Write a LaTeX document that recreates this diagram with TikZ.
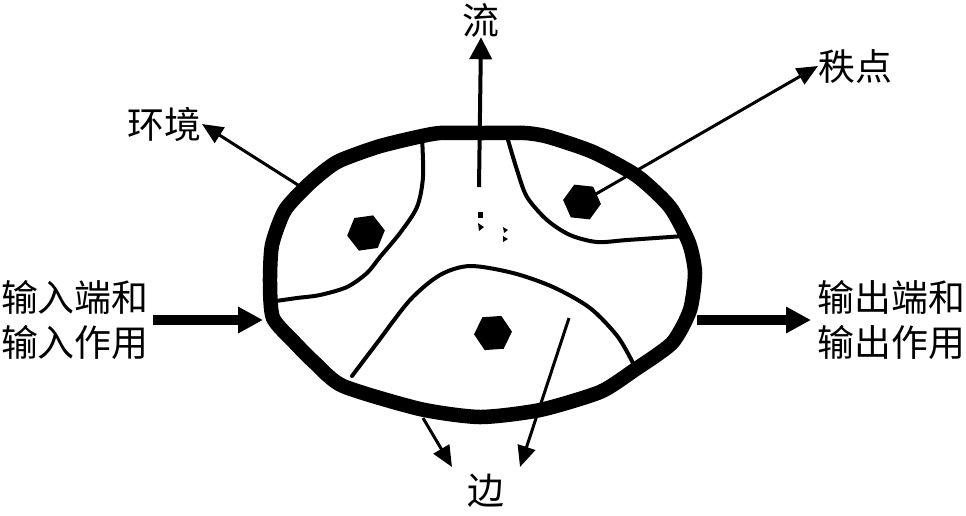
\documentclass[tikz,border=0pt]{standalone}
\usepackage{fontspec}
\setmainfont{Liberation Serif}
\newfontfamily\cjk{Noto Sans CJK SC}
\usetikzlibrary{arrows.meta,shapes.geometric}
\begin{document}
\begin{tikzpicture}[x=0.02cm,y=-0.02cm,
  rim/.style={line width=0.29cm, line join=round},
  inner/.style={line width=0.08cm, line cap=round},
  lbl/.style={font=\cjk\fontsize{21}{25.5}\selectfont, inner sep=0pt},
  blob/.style={regular polygon, regular polygon sides=6, fill=black, draw=none, minimum size=0.76cm, inner sep=0pt},
  thinarr/.style={line width=0.06cm, -{Triangle[length=0.42cm,width=0.36cm]}},
  flowarr/.style={line width=0.08cm, -{Triangle[length=0.44cm,width=0.44cm]}},
  fatarr/.style={line width=0.2cm, -{Triangle[length=0.5cm,width=0.5cm]}}
]
\useasboundingbox (0,0) rectangle (966,515);

% outer boundary
\draw[rim] plot[smooth cycle, tension=0.4] coordinates {
 (440,133) (482,133) (525,133) (549,137) (593,152) (637,176) (670,207) (689,243) (695,273)
 (690,310) (672,343) (633,371) (600,392) (540,410) (480,417) (420,409) (343,386)
 (315,363) (295,343) (273,318) (270,283) (272,245) (285,210) (310,183) (337,162)
 (377,147) (413,138)};

% inner boundaries
\draw[inner] plot[smooth, tension=0.5] coordinates {
 (422,137) (423,177) (417,207) (400,233) (380,257) (367,273) (347,287) (320,295) (297,298) (276,301)};
\draw[inner] plot[smooth, tension=0.5] coordinates {
 (508,140) (517,170) (527,197) (547,220) (570,235) (597,242) (627,240) (684,236)};
\draw[inner] plot[smooth, tension=0.5] coordinates {
 (352,376) (377,343) (410,300) (440,275) (470,266) (513,273) (553,287) (590,308) (618,337) (635,367)};

% nodes (dots)
\node[blob, rotate=8] (dotL) at (366,233) {};
\node[blob, rotate=-6] (dotR) at (582,202) {};
\node[blob, rotate=4] (dotB) at (493,333) {};

% tiny marks
\fill (478,212) rectangle (483,218);
\fill (478,223) -- (484,227) -- (479,231) -- cycle;
\fill (503,227) -- (508,230) -- (504,233) -- cycle;
\fill (503,236) -- (508,239) -- (503,242) -- cycle;

% labels
\node[lbl] (flow) at (481,20) {流};
\node[lbl, anchor=west] (rank) at (818,66) {秩点};
\node[lbl, anchor=east] (env) at (202,124) {环境};
\node[lbl, anchor=east, align=left] (inp) at (149,320) {输入端和\\输入作用};
\node[lbl, anchor=west, align=left] (outp) at (817,320) {输出端和\\输出作用};
\node[lbl] (edge) at (486,491) {边};

% connector coordinates
\coordinate (flowS) at (479,187);
\coordinate (envS) at (298,185);
\coordinate (inE) at (263,320);
\coordinate (outS) at (697,320);
\coordinate (edgeLS) at (423,418);
\coordinate (edgeLT) at (452,467);
\coordinate (edgeRS) at (569,318);
\coordinate (edgeRT) at (520,467);

% connectors
\draw[flowarr] (flowS) -- (flow.south);
\draw[thinarr] (dotR.center) -- (rank.west);
\draw[thinarr] (envS) -- (env.east);
\draw[fatarr, shorten <=0.08cm] (inp.east) -- (inE);
\draw[fatarr, shorten >=0.12cm] (outS) -- (outp.west);
\draw[thinarr] (edgeLS) -- (edgeLT);
\draw[thinarr] (edgeRS) -- (edgeRT);
\end{tikzpicture}
\end{document}
